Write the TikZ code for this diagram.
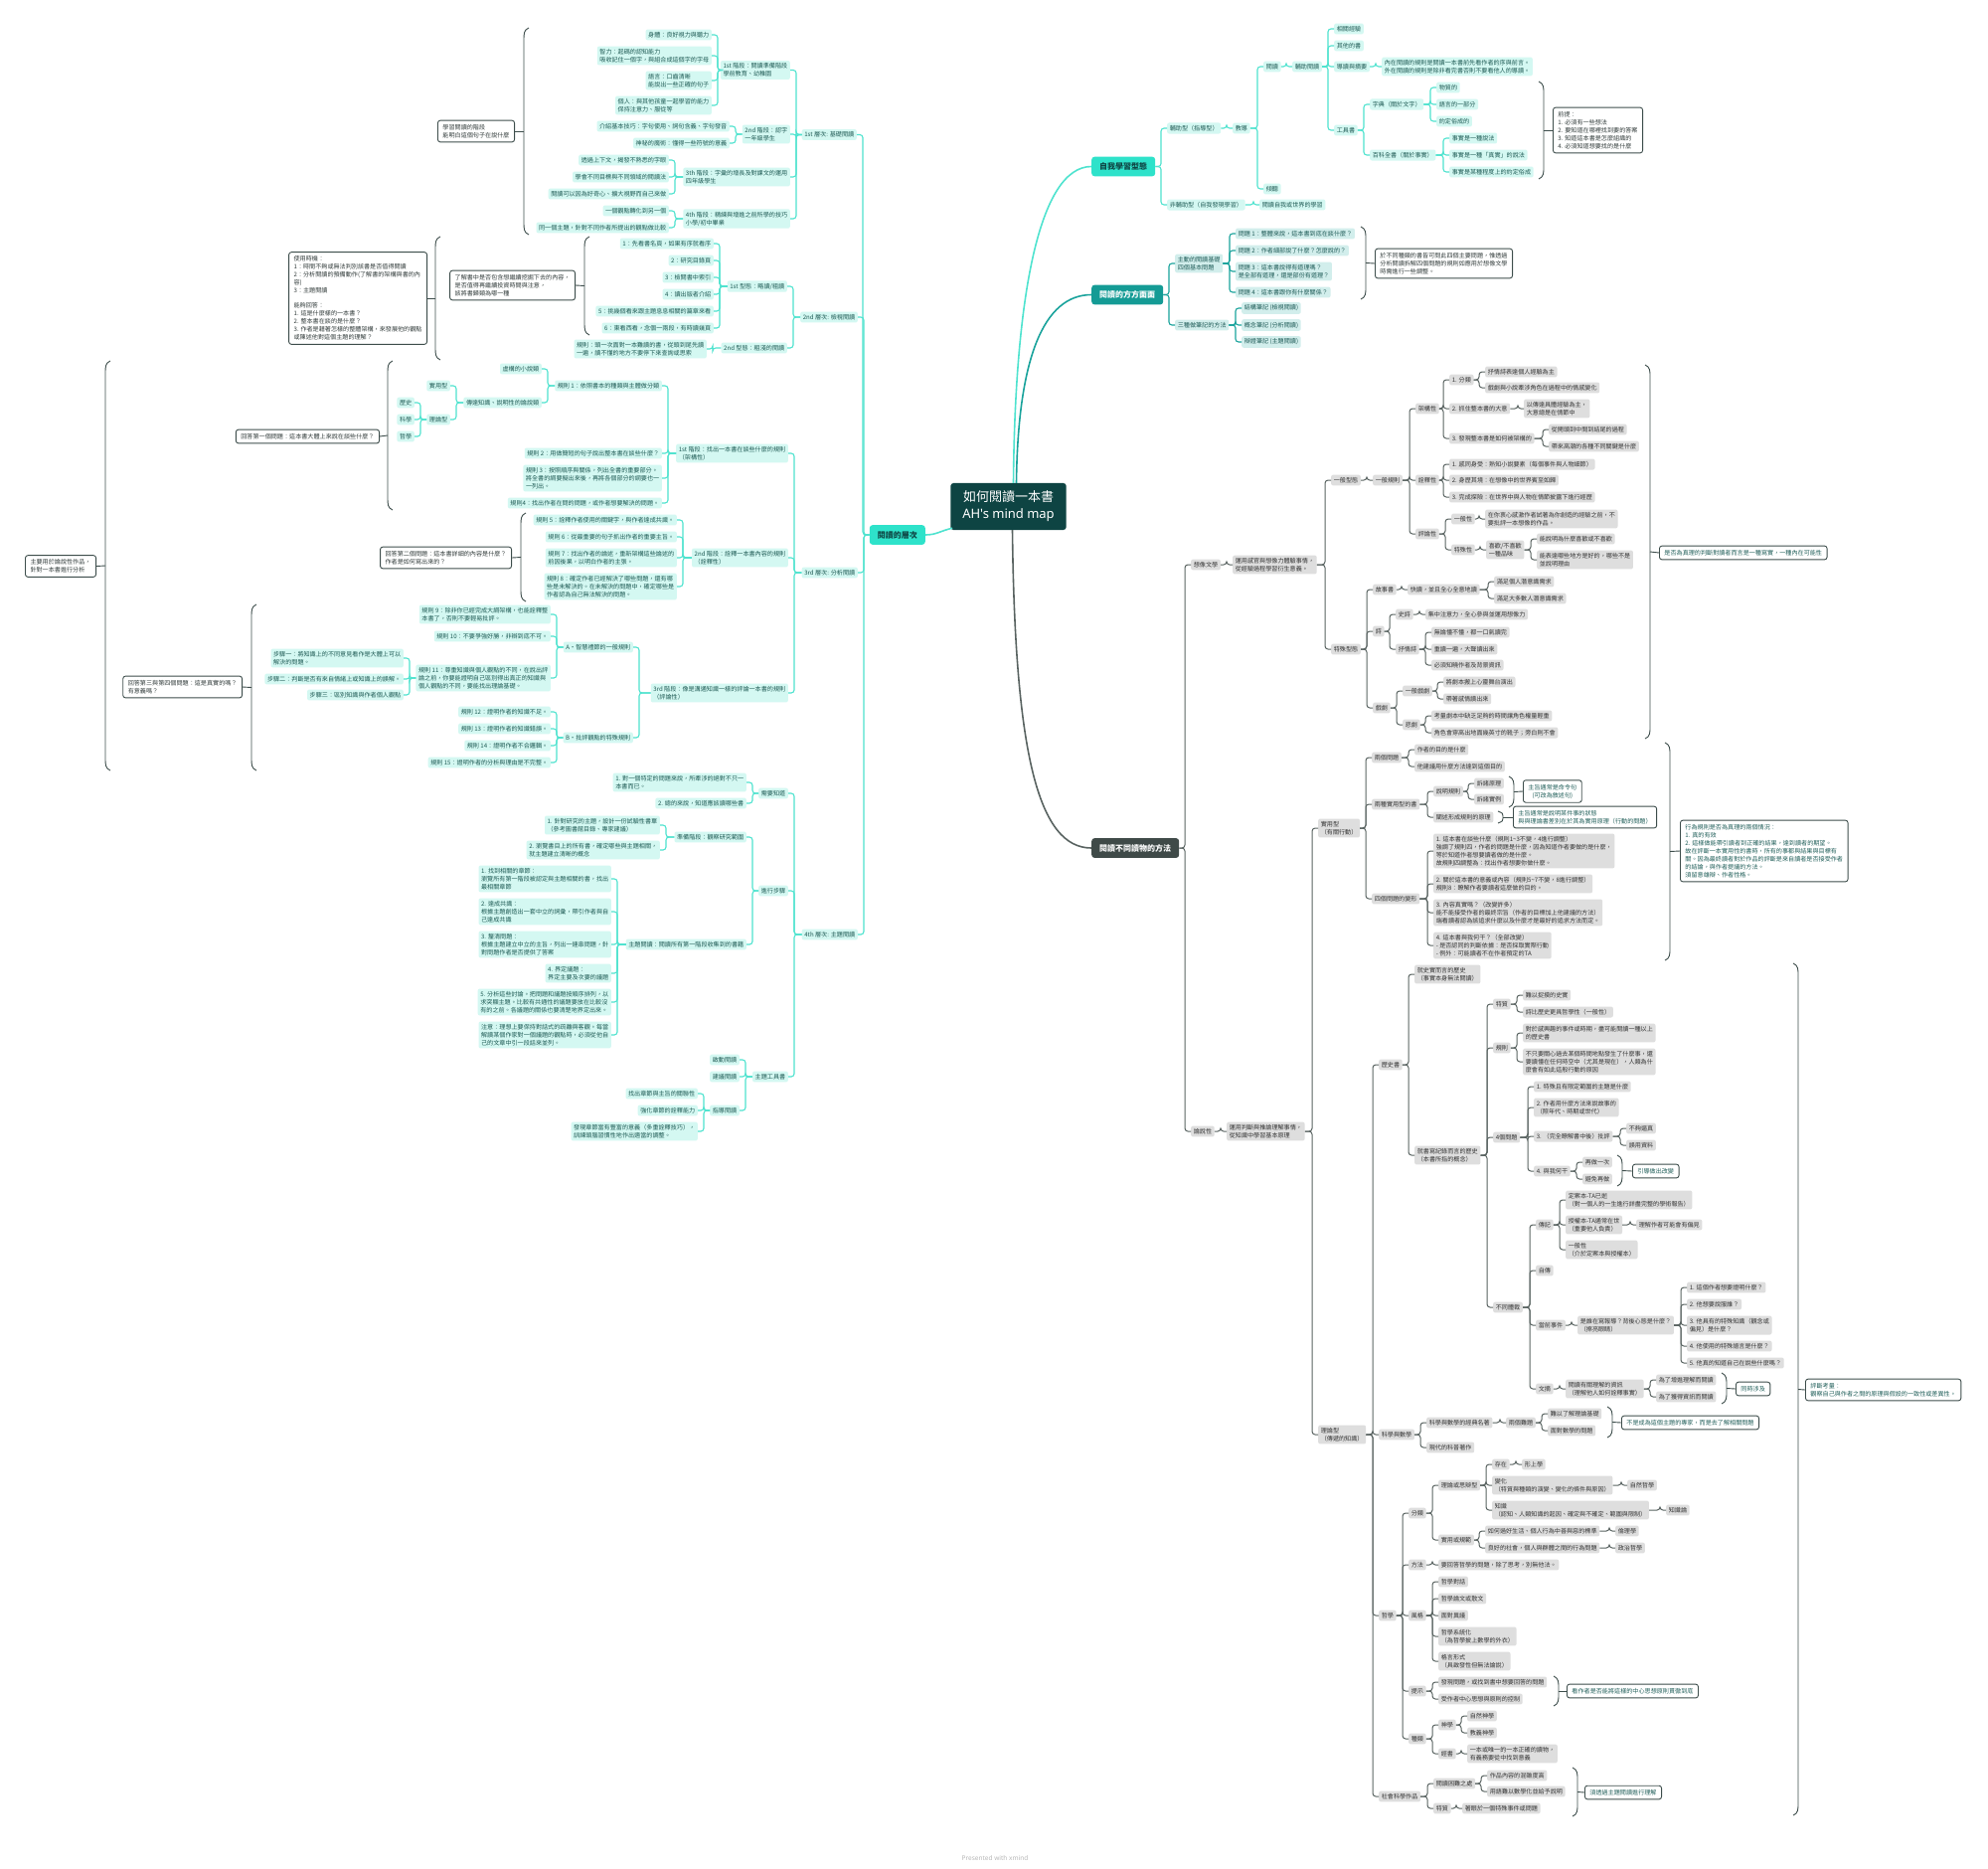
\documentclass[tikz,border=0pt]{standalone}
\usepackage{fontspec}
\setmainfont{Noto Sans CJK TC}
\newfontfamily\latinf{Noto Sans}
\usetikzlibrary{calc}
\definecolor{cyF}{HTML}{D4F8F2}
\definecolor{cyT}{HTML}{1E5A54}
\definecolor{cyL}{HTML}{4FE3CF}
\definecolor{teF}{HTML}{D2EEEC}
\definecolor{teT}{HTML}{1D5A56}
\definecolor{teL}{HTML}{1AA39C}
\definecolor{gyF}{HTML}{DEDEDE}
\definecolor{gyT}{HTML}{333333}
\definecolor{gyL}{HTML}{5A6462}
\definecolor{smD}{HTML}{3E4E4C}
\definecolor{smT}{HTML}{333D3C}
\definecolor{smTd}{HTML}{22605B}
\definecolor{mainC}{HTML}{2EE2CA}
\definecolor{mainT}{HTML}{149B95}
\definecolor{mainG}{HTML}{3F4A48}
\definecolor{cenF}{HTML}{0E4443}
\newcommand\mfont{\fontsize{6.1bp}{8bp}\selectfont}
\newcommand\nR[6]{\node[#3,anchor=west] (#2) at (#4,#5) {#6};\draw[#3l] (#1.east) -| ([xshift=-6bp]#2.west) -- (#2.west);}
\newcommand\nL[6]{\node[#3,anchor=east] (#2) at (#4,#5) {#6};\draw[#3l] (#1.west) -| ([xshift=6bp]#2.east) -- (#2.east);}
\newcommand\bR[5]{\pgfmathsetmacro\brkk{min(12,(#3-#2)/2.5)}\draw[brk] (#1,#2) .. controls ({#1+5},{#2+2}) and ({#1+5},{#2+\brkk/2}) .. ({#1+5},{#2+\brkk}) -- ({#1+5},{#3-\brkk}) .. controls ({#1+5},{#3-\brkk/2}) and ({#1+5},{#3-2}) .. (#1,#3);\coordinate (#4) at ({#1+5},{(#2+#3)/2});\draw[brk] (#4) -- (#5.west);}
\newcommand\bL[5]{\pgfmathsetmacro\brkk{min(12,(#3-#2)/2.5)}\draw[brk] (#1,#2) .. controls ({#1-5},{#2+2}) and ({#1-5},{#2+\brkk/2}) .. ({#1-5},{#2+\brkk}) -- ({#1-5},{#3-\brkk}) .. controls ({#1-5},{#3-\brkk/2}) and ({#1-5},{#3-2}) .. (#1,#3);\coordinate (#4) at ({#1-5},{(#2+#3)/2});\draw[brk] (#4) -- (#5.east);}
\tikzset{
 nodebase/.style={rounded corners=2bp,inner xsep=2.6bp,inner ysep=2.6bp,font=\mfont,align=left},
 cy/.style={nodebase,fill=cyF,text=cyT},
 te/.style={nodebase,fill=teF,text=teT},
 gy/.style={nodebase,fill=gyF,text=gyT},
 cyl/.style={draw=cyL,line width=1.1bp,rounded corners=3bp},
 tel/.style={draw=teL,line width=1.1bp,rounded corners=3bp},
 gyl/.style={draw=gyL,line width=1bp,rounded corners=3bp},
 sm/.style={draw=smD,line width=0.9bp,fill=white,rounded corners=2.5bp,inner xsep=5bp,inner ysep=4bp,text=smT,font=\mfont,align=left},
 smd/.style={sm,text=smTd},
 brk/.style={draw=smD,line width=0.9bp},
 mainbase/.style={rounded corners=3bp,inner xsep=8bp,inner ysep=6bp,font=\fontsize{8bp}{10bp}\selectfont\bfseries},
 mc/.style={mainbase,fill=mainC,text=cenF},
 mt/.style={mainbase,fill=mainT,text=white},
 mg/.style={mainbase,fill=mainG,text=white},
 cen/.style={rounded corners=3bp,inner xsep=12bp,inner ysep=8bp,fill=cenF,text=white,align=center,font=\fontsize{13bp}{17bp}\selectfont}
}
\begin{document}
\begin{tikzpicture}[x=1bp,y=-1bp]
\fill[white] (0,0) rectangle (2000,1880);
\useasboundingbox (0,0) rectangle (2000,1880);
% central and main branches
\node[cen] (C) at (1014.5,509.5) {如何閱讀一本書\\{\latinf AH's mind map}};
\node[mc,anchor=west] (M1) at (1098,167.5) {自我學習型態};
\node[mt,anchor=west] (M2) at (1098,296.5) {閱讀的方方面面};
\node[mc,anchor=east] (M3) at (931,538) {閱讀的層次};
\node[mg,anchor=west] (M4) at (1098,853) {閱讀不同讀物的方法};
\draw[cyL,line width=1.6bp] ([xshift=5bp]C.north) .. controls (1021,300) and (1045,167.5) .. (M1.west);
\draw[teL,line width=1.6bp] ([xshift=8bp]C.north) .. controls (1024,360) and (1050,296.5) .. (M2.west);
\draw[cyL,line width=1.6bp] (M3.east) .. controls (942,538) and (946,534) .. ([xshift=2bp,yshift=2bp]C.south west);
\draw[gyL,line width=1.6bp] ([xshift=4bp]C.south) .. controls (1021,760) and (1045,853) .. (M4.west);
% ---------- B: 自我學習型態
\nR{M1}{b1}{cy}{1174}{129}{輔助型（指導型）}
\nR{M1}{b2}{cy}{1174}{206}{非輔助型（自我發現學習）}
\nR{b2}{b3}{cy}{1267}{206}{閱讀自我或世界的學習}
\nR{b1}{b4}{cy}{1240}{129}{教導}
\nR{b4}{b5}{cy}{1271}{67}{閱讀}
\nR{b4}{b6}{cy}{1271}{190}{傾聽}
\nR{b5}{b7}{cy}{1300}{67}{輔助閱讀}
\nR{b7}{b8}{cy}{1342}{29}{相關經驗}
\nR{b7}{b9}{cy}{1342}{46}{其他的書}
\nR{b7}{b10}{cy}{1342}{67}{導讀與摘要}
\nR{b7}{b11}{cy}{1342}{131}{工具書}
\nR{b10}{b12}{cy}{1390}{67}{內在閱讀的規則是閱讀一本書前先看作者的序與前言。\\外在閱讀的規則是除非看完書否則不要看他人的導讀。}
\nR{b11}{b13}{cy}{1378}{105}{字典（關於文字）}
\nR{b11}{b14}{cy}{1378}{156}{百科全書（關於事實）}
\nR{b13}{b15}{cy}{1445}{88}{物質的}
\nR{b13}{b16}{cy}{1445}{105}{語言的一部分}
\nR{b13}{b17}{cy}{1445}{122}{約定俗成的}
\nR{b14}{b18}{cy}{1458}{139}{事實是一種說法}
\nR{b14}{b19}{cy}{1458}{156}{事實是一種「真實」的說法}
\nR{b14}{b20}{cy}{1458}{173}{事實是某種程度上的約定俗成}
\node[sm,anchor=west] (b21) at (1562,131) {前提：\\1. 必須有一些想法\\2. 要知道在哪裡找到要的答案\\3. 知道這本書是怎麼組織的\\4. 必須知道想要找的是什麼};
\bR{1548}{82}{180}{bk1}{b21}
% ---------- C: 閱讀的方方面面
\nR{M2}{c1}{te}{1182}{265}{主動的閱讀基礎\\四個基本問題}
\nR{M2}{c2}{te}{1182}{327}{三種做筆記的方法}
\nR{c1}{c3}{te}{1243}{235}{問題 1：整體來說，這本書到底在談什麼？}
\nR{c1}{c4}{te}{1243}{252}{問題 2：作者細部說了什麼？怎麼說的？}
\nR{c1}{c5}{te}{1243}{273}{問題 3：這本書說得有道理嗎？\\是全部有道理，還是部份有道理？}
\nR{c1}{c6}{te}{1243}{294}{問題 4：這本書跟你有什麼關係？}
\node[sm,anchor=west] (c7) at (1383,265) {於不同種類的書皆可問此四個主要問題，惟透過\\分析閱讀拆解四個問題的規則如應用於想像文學\\時需進行一些調整。};
\bR{1369}{228}{301}{bk2}{c7}
\nR{c2}{c8}{te}{1249}{310}{結構筆記 (檢視閱讀)}
\nR{c2}{c9}{te}{1249}{327}{概念筆記 (分析閱讀)}
\nR{c2}{c10}{te}{1249}{344}{辯證筆記 (主題閱讀)}
% ---------- A: 閱讀的層次
\nL{M3}{a1}{cy}{862}{135.5}{1st 層次: 基礎閱讀}
\nL{M3}{a2}{cy}{863}{319}{2nd 層次: 檢視閱讀}
\nL{M3}{a3}{cy}{863}{576}{3rd 層次: 分析閱讀}
\nL{M3}{a4}{cy}{863}{940}{4th 層次: 主題閱讀}
\nL{a1}{a11}{cy}{795}{70.5}{1st 階段：閱讀準備階段\\學前教育、幼稚園}
\nL{a1}{a12}{cy}{795}{135}{2nd 階段：認字\\一年級學生}
\nL{a1}{a13}{cy}{795}{178}{3th 階段：字彙的增長及對課文的運用\\四年級學生}
\nL{a1}{a14}{cy}{795}{220}{4th 階段：精練與增進之前所學的技巧\\小學/初中畢業}
\nL{a11}{a111}{cy}{716}{35}{身體：良好視力與聽力}
\nL{a11}{a112}{cy}{716}{56}{智力：起碼的認知能力\\吸收記住一個字，與組合成這個字的字母}
\nL{a11}{a113}{cy}{716}{81}{語言：口齒清晰\\能說出一些正確的句子}
\nL{a11}{a114}{cy}{716}{106}{個人：與其他孩童一起學習的能力\\保持注意力、服從等}
\nL{a12}{a121}{cy}{734}{127}{介紹基本技巧：字句使用、詞句含義、字句發音}
\nL{a12}{a122}{cy}{734}{144}{神秘的魔術：懂得一些符號的意義}
\nL{a13}{a131}{cy}{673}{161}{透過上下文，揭發不熟悉的字眼}
\nL{a13}{a132}{cy}{673}{178}{學會不同目標與不同領域的閱讀法}
\nL{a13}{a133}{cy}{673}{195}{閱讀可以因為好奇心、擴大視野而自己來做}
\nL{a14}{a141}{cy}{673}{212}{一個觀點轉化到另一個}
\nL{a14}{a142}{cy}{673}{229}{同一個主題，針對不同作者所提出的觀點做比較}
\node[sm,anchor=east] (a15) at (518,132) {學習閱讀的階段\\能明白這個句子在說什麼};
\bL{532}{28}{236}{bk3}{a15}
\nL{a2}{a21}{cy}{792}{288}{1st 型態：略讀/粗讀}
\nL{a2}{a22}{cy}{792}{350}{2nd 型態：粗淺的閱讀}
\nL{a21}{a211}{cy}{718}{245}{1：先看書名頁，如果有序就看序}
\nL{a21}{a212}{cy}{718}{262}{2：研究目錄頁}
\nL{a21}{a213}{cy}{718}{279}{3：檢閱書中索引}
\nL{a21}{a214}{cy}{718}{296}{4：讀出版者介紹}
\nL{a21}{a215}{cy}{718}{313}{5：挑幾個看來跟主題息息相關的篇章來看}
\nL{a21}{a216}{cy}{718}{330}{6：東看西看，念個一兩段，有時讀幾頁}
\nL{a22}{a221}{cy}{711}{351}{規則：頭一次面對一本難讀的書，從頭到尾先讀\\一遍，讀不懂的地方不要停下來查詢或思索}
\node[sm,anchor=east] (a23) at (579,287) {了解書中是否包含想繼續挖掘下去的內容，\\是否值得再繼續投資時間與注意，\\該將書歸類為哪一種};
\bL{593}{238}{337}{bk4}{a23}
\node[sm,anchor=east] (a24) at (430,300) {使用時機：\\1：時間不夠或無法判別該書是否值得閱讀\\2：分析閱讀的預備動作(了解書的架構與書的內\\容)\\3：主題閱讀\\[7bp]能夠回答：\\1. 這是什麼樣的一本書？\\2. 整本書在談的是什麼？\\3. 作者是藉著怎樣的整體架構，來發展他的觀點\\或陳述他對這個主題的理解？};
\bL{443}{238}{362}{bk5}{a24}
\nL{a3}{a31}{cy}{793}{456}{1st 階段：找出一本書在談些什麼的規則\\（架構性）}
\nL{a3}{a32}{cy}{793}{561}{2nd 階段：詮釋一本書內容的規則\\（詮釋性）}
\nL{a3}{a33}{cy}{793}{697}{3rd 階段：像是溝通知識一樣的評論一本書的規則\\（評論性）}
\nL{a31}{a311}{cy}{666}{388}{規則 1：依照書本的種類與主體做分類}
\nL{a31}{a312}{cy}{666}{456}{規則 2：用做簡短的句子說出整本書在談些什麼？}
\nL{a31}{a313}{cy}{666}{481}{規則 3：按照順序與關係，列出全書的重要部分。\\將全書的綱要擬出來後，再將各個部分的綱要也一\\一列出。}
\nL{a31}{a314}{cy}{666}{506}{規則4：找出作者在問的問題，或作者想要解決的問題。}
\nL{a311}{a3111}{cy}{545}{371}{虛構的小說類}
\nL{a311}{a3112}{cy}{545}{405}{傳達知識、說明性的論說類}
\nL{a3112}{a3113}{cy}{453}{388}{實用型}
\nL{a3112}{a3114}{cy}{453}{422}{理論型}
\nL{a3114}{a3115}{cy}{417}{405}{歷史}
\nL{a3114}{a3116}{cy}{417}{422}{科學}
\nL{a3114}{a3117}{cy}{417}{439}{哲學}
\node[sm,anchor=east] (a315) at (382,439) {回答第一個問題：這本書大體上來說在談些什麼？};
\bL{395}{363}{513}{bk6}{a315}
\nL{a32}{a321}{cy}{681}{523}{規則 5：詮釋作者使用的關鍵字，與作者達成共識。}
\nL{a32}{a322}{cy}{681}{540}{規則 6：從最重要的句子抓出作者的重要主旨。}
\nL{a32}{a323}{cy}{681}{561}{規則 7：找出作者的論述，重新架構這些論述的\\前因後果，以明白作者的主張。}
\nL{a32}{a324}{cy}{681}{590}{規則 8：確定作者已經解決了哪些問題，還有哪\\些是未解決的。在未解決的問題中，確定哪些是\\作者認為自己無法解決的問題。}
\node[sm,anchor=east] (a325) at (515,561) {回答第二個問題：這本書詳細的內容是什麼？\\作者是如何寫出來的？};
\bL{529}{516}{605}{bk7}{a325}
\nL{a33}{a331}{cy}{637}{651}{A・智慧禮節的一般規則}
\nL{a33}{a332}{cy}{637}{742}{B・批評觀點的特殊規則}
\nL{a331}{a3311}{cy}{554}{618}{規則 9：除非你已經完成大綱架構，也能詮釋整\\本書了，否則不要輕易批評。}
\nL{a331}{a3312}{cy}{554}{640}{規則 10：不要爭強好勝，非辯到底不可。}
\nL{a331}{a3313}{cy}{554}{682}{規則 11：尊重知識與個人觀點的不同，在說出評\\論之前，你要能證明自己區別得出真正的知識與\\個人觀點的不同，要能找出理論基礎。}
\nL{a3313}{a3314}{cy}{406}{662}{步驟一：將知識上的不同意見看作是大體上可以\\解決的問題。}
\nL{a3313}{a3315}{cy}{406}{683}{步驟二：判斷是否有來自情緒上或知識上的誤解。}
\nL{a3313}{a3316}{cy}{406}{699}{步驟三：區別知識與作者個人觀點}
\nL{a332}{a3321}{cy}{554}{716}{規則 12：證明作者的知識不足。}
\nL{a332}{a3322}{cy}{554}{733}{規則 13：證明作者的知識錯誤。}
\nL{a332}{a3323}{cy}{554}{750}{規則 14：證明作者不合邏輯。}
\nL{a332}{a3324}{cy}{554}{767}{規則 15：證明作者的分析與理由是不完整。}
\node[sm,anchor=east] (a333) at (244,691) {回答第三與第四個問題：這是真實的嗎？\\有意義嗎？};
\bL{258}{608}{775}{bk8}{a333}
\node[sm,anchor=east] (a34) at (97,569.5) {主要用於論說性作品，\\針對一本書進行分析};
\bL{111}{363}{775}{bk9}{a34}
\nL{a4}{a41}{cy}{793}{798}{需要知道}
\nL{a4}{a42}{cy}{793}{896}{進行步驟}
\nL{a4}{a43}{cy}{793}{1083}{主題工具書}
\nL{a41}{a411}{cy}{751}{787}{1. 對一個特定的問題來說，所牽涉的絕對不只一\\本書而已。}
\nL{a41}{a412}{cy}{751}{808}{2. 總的來說，知道應該讀哪些書}
\nL{a42}{a421}{cy}{751}{842}{準備階段：觀察研究範圍}
\nL{a42}{a422}{cy}{751}{950}{主題閱讀：閱讀所有第一階段收集到的書籍}
\nL{a421}{a4211}{cy}{664}{830}{1. 針對研究的主題，設計一份試驗性書單\\（參考圖書館目錄、專家建議）}
\nL{a421}{a4212}{cy}{664}{855}{2. 瀏覽書目上的所有書，確定哪些與主題相關，\\就主題建立清晰的概念}
\nL{a422}{a4221}{cy}{615}{884}{1. 找到相關的章節：\\瀏覽所有第一階段被認定與主題相關的書，找出\\最相關章節}
\nL{a422}{a4222}{cy}{615}{917}{2. 達成共識：\\根據主題創造出一套中立的詞彙，帶引作者與自\\己達成共識}
\nL{a422}{a4223}{cy}{615}{950}{3. 釐清問題：\\根據主題建立中立的主旨，列出一連串問題，針\\對問題作者是否提供了答案}
\nL{a422}{a4224}{cy}{615}{979}{4. 界定議題：\\界定主要及次要的議題}
\nL{a422}{a4225}{cy}{615}{1008}{5. 分析這些討論。把問題和議題按順序排列，以\\求突顯主題。比較有共通性的議題要放在比較沒\\有的之前。各議題的關係也要清楚地界定出來。}
\nL{a422}{a4226}{cy}{615}{1041}{注意：理想上要保持對話式的疏離與客觀。每當\\解讀某個作家對一個議題的觀點時，必須從他自\\己的文章中引一段話來並列。}
\nL{a43}{a431}{cy}{744}{1066}{啟動閱讀}
\nL{a43}{a432}{cy}{744}{1083}{建議閱讀}
\nL{a43}{a433}{cy}{744}{1117}{指導閱讀}
\nL{a433}{a4331}{cy}{702}{1100}{找出章節與主旨的關聯性}
\nL{a433}{a4332}{cy}{702}{1117}{強化章節的詮釋能力}
\nL{a433}{a4333}{cy}{702}{1138}{發現章節當有豐富的意義（多重詮釋技巧），\\訓練頭腦習慣性地作出適當的調整。}
% ---------- D: 閱讀不同讀物的方法
\nR{M4}{d1}{gy}{1198}{568}{想像文學}
\nR{M4}{d2}{gy}{1198}{1138}{論說性}
\nR{d1}{d11}{gy}{1240}{568}{運用感官與想像力體驗事情，\\從經驗過程學習衍生意義。}
\nR{d11}{d12}{gy}{1339}{483}{一般型態}
\nR{d11}{d13}{gy}{1339}{653}{特殊型態}
\nR{d12}{d121}{gy}{1381}{483}{一般規則}
\nR{d121}{e1}{gy}{1424}{411}{架構性}
\nR{d121}{e2}{gy}{1424}{483}{詮釋性}
\nR{d121}{e3}{gy}{1424}{537}{評論性}
\nR{e1}{e11}{gy}{1458}{382}{1. 分類}
\nR{e11}{e111}{gy}{1494}{374}{抒情詩表達個人經驗為主}
\nR{e11}{e112}{gy}{1494}{390}{戲劇與小說牽涉角色在過程中的情感變化}
\nR{e1}{e12}{gy}{1458}{411}{2. 抓住整本書的大意}
\nR{e12}{e121}{gy}{1533}{411}{以傳達具體經驗為主，\\大意總是在情節中}
\nR{e1}{e13}{gy}{1458}{441}{3. 發現整本書是如何被架構的}
\nR{e13}{e131}{gy}{1558}{432}{從開頭到中間到結尾的過程}
\nR{e13}{e132}{gy}{1558}{449}{帶來高潮的各種不同關鍵是什麼}
\nR{e2}{e21}{gy}{1458}{467}{1. 感同身受：熟知小說要素（每個事件與人物細節）}
\nR{e2}{e22}{gy}{1458}{483}{2. 身歷其境：在想像中的世界賓至如歸}
\nR{e2}{e23}{gy}{1458}{500}{3. 完成探險：在世界中與人物在情節披露下進行經歷}
\nR{e3}{e31}{gy}{1460}{522}{一般性}
\nR{e31}{e311}{gy}{1494}{522}{在你衷心感激作者試著為你創造的經驗之前，不\\要批評一本想像的作品。}
\nR{e3}{e32}{gy}{1460}{553}{特殊性}
\nR{e32}{e321}{gy}{1495}{553}{喜歡/不喜歡\\一種品味}
\nR{e321}{e3211}{gy}{1546}{542}{能說明為什麼喜歡或不喜歡}
\nR{e321}{e3212}{gy}{1546}{563}{能表達哪些地方是好的，哪些不是\\並說明理由}
\nR{d13}{f1}{gy}{1381}{593}{故事書}
\nR{f1}{f11}{gy}{1416}{593}{快讀，並且全心全意地讀}
\nR{f11}{f111}{gy}{1503}{585}{滿足個人潛意識需求}
\nR{f11}{f112}{gy}{1503}{602}{滿足大多數人潛意識需求}
\nR{d13}{f2}{gy}{1381}{635}{詩}
\nR{f2}{f21}{gy}{1404}{618}{史詩}
\nR{f21}{f211}{gy}{1434}{618}{集中注意力，全心參與並運用想像力}
\nR{f2}{f22}{gy}{1404}{653}{抒情詩}
\nR{f22}{f221}{gy}{1440}{636}{無論懂不懂，都一口氣讀完}
\nR{f22}{f222}{gy}{1440}{653}{重讀一遍，大聲讀出來}
\nR{f22}{f223}{gy}{1440}{669}{必須知曉作者及背景資訊}
\nR{d13}{f3}{gy}{1381}{712}{戲劇}
\nR{f3}{f31}{gy}{1411}{695}{一般戲劇}
\nR{f31}{f311}{gy}{1452}{686}{將劇本搬上心靈舞台演出}
\nR{f31}{f312}{gy}{1452}{703}{帶著感情讀出來}
\nR{f3}{f32}{gy}{1411}{729}{悲劇}
\nR{f32}{f321}{gy}{1440}{720}{考量劇本中缺乏足夠的時間讓角色權量輕重}
\nR{f32}{f322}{gy}{1440}{737}{角色會穿高出地面幾英寸的靴子；旁白則不會}
\node[smd,anchor=west] (d14) at (1669,556) {是否為真理的判斷對讀者而言是一種寫實，一種內在可能性};
\bR{1655}{367}{743}{bk10}{d14}
\nR{d2}{d21}{gy}{1234}{1138}{運用判斷與推論理解事情，\\從知識中學習基本原理}
\nR{d21}{g1}{gy}{1326}{833}{實用型\\（有關行動）}
\nR{d21}{g2}{gy}{1326}{1443}{理論型\\（傳遞的知識）}
\nR{g1}{g11}{gy}{1380}{762}{兩個問題}
\nR{g11}{g111}{gy}{1423}{754}{作者的目的是什麼}
\nR{g11}{g112}{gy}{1423}{771}{他建議用什麼方法達到這個目的}
\nR{g1}{g12}{gy}{1380}{809}{兩種實用型的書}
\nR{g12}{g121}{gy}{1442}{796}{說明規則}
\nR{g121}{g1211}{gy}{1483}{788}{訴諸原理}
\nR{g121}{g1212}{gy}{1483}{804}{訴諸實例}
\node[smd,anchor=west,align=center] (g1213) at (1532,796) {主旨通常是命令句\\(可改為敘述句)};
\bR{1518}{781}{812}{bk11}{g1213}
\nR{g12}{g122}{gy}{1442}{822}{闡述形成規則的原理}
\node[smd,anchor=west] (g1221) at (1522,822) {主旨通常是說明某件事的狀態\\與與理論書差別在於其為實用原理（行動的問題）};
\bR{1507}{816}{828}{bk12}{g1221}
\nR{g1}{g13}{gy}{1380}{904}{四個問題的變形}
\nR{g13}{g131}{gy}{1442}{856}{1. 這本書在談些什麼（規則1\textasciitilde 3不變，4進行調整）\\強調了規則四，作者的問題是什麼，因為知道作者要做的是什麼，\\等於知道作者想要讀者做的是什麼。\\故規則四調整為：找出作者想要你做什麼。}
\nR{g13}{g132}{gy}{1442}{889}{2. 關於這本書的意義或內容（規則5\textasciitilde 7不變，8進行調整）\\規則8：瞭解作者要讀者這麼做的目的。}
\nR{g13}{g133}{gy}{1442}{918}{3. 內容真實嗎？（改變許多）\\能不能接受作者的最終宗旨（作者的目標加上他建議的方法）\\端看讀者認為該追求什麼以及什麼才是最好的追求方法而定。}
\nR{g13}{g134}{gy}{1442}{951}{4. 這本書與我何干？（全部改變）\\- 是否認同的判斷依據：是否採取實際行動\\- 例外：可能讀者不在作者預定的TA}
\node[smd,anchor=west] (g14) at (1690,856) {行為規則是否為真理的兩個情況：\\1. 真的有效\\2. 這樣做能帶引讀者到正確的結果，達到讀者的期望。\\故在評斷一本實用性的書時，所有的事都與結果與目標有\\關。因為最終讀者對於作品的評斷是來自讀者是否接受作者\\的結論，與作者提議的方法。\\須留意雄辯、作者性格。};
\bR{1675}{747}{966}{bk13}{g14}
\nR{g2}{h1}{gy}{1387}{1071}{歷史書}
\nR{h1}{h11}{gy}{1423}{980}{就史實而言的歷史\\（事實本身無法閱讀）}
\nR{h1}{h12}{gy}{1423}{1162}{就書寫紀錄而言的歷史\\（本書所指的概念）}
\nR{h12}{h121}{gy}{1502}{1010}{特質}
\nR{h121}{h1211}{gy}{1532}{1001}{難以捉摸的史實}
\nR{h121}{h1212}{gy}{1532}{1018}{詩比歷史更具哲學性（一般性）}
\nR{h12}{h122}{gy}{1502}{1054}{規則}
\nR{h122}{h1221}{gy}{1532}{1039}{對於感興趣的事件或時期，盡可能閱讀一種以上\\的歷史書}
\nR{h122}{h1222}{gy}{1532}{1068}{不只要關心過去某個時間地點發生了什麼事，還\\要讀懂在任何時空中（尤其是現在），人類為什\\麼會有如此這般行動的原因}
\nR{h12}{h123}{gy}{1502}{1144}{4個問題}
\nR{h123}{h1231}{gy}{1543}{1093}{1. 特殊且有限定範圍的主題是什麼}
\nR{h123}{h1232}{gy}{1543}{1114}{2. 作者用什麼方法來說故事的\\（照年代、時期或世代）}
\nR{h123}{h1233}{gy}{1543}{1143}{3. （完全瞭解書中後）批評}
\nR{h1233}{h12331}{gy}{1636}{1135}{不夠逼真}
\nR{h1233}{h12332}{gy}{1636}{1152}{誤用資料}
\nR{h123}{h1234}{gy}{1543}{1178}{4. 與我何干}
\nR{h1234}{h12341}{gy}{1592}{1169}{再做一次}
\nR{h1234}{h12342}{gy}{1592}{1186}{避免再做}
\node[smd,anchor=west] (h12343) at (1642,1178) {引導做出改變};
\bR{1627}{1162}{1193}{bk14}{h12343}
\nR{h12}{h124}{gy}{1502}{1315}{不同體裁}
\nR{h124}{h1241}{gy}{1545}{1232}{傳記}
\nR{h1241}{i1}{gy}{1575}{1207}{定案本-TA已逝\\（對一個人的一生進行詳盡完整的學術報告）}
\nR{h1241}{i2}{gy}{1575}{1232}{授權本-TA通常在世\\（重要他人負責）}
\nR{i2}{i21}{gy}{1646}{1232}{理解作者可能會有偏見}
\nR{h1241}{i3}{gy}{1575}{1257}{一般性\\（介於定案本與授權本）}
\nR{h124}{h1242}{gy}{1545}{1278}{自傳}
\nR{h124}{h1243}{gy}{1545}{1333}{當前事件}
\nR{h1243}{j1}{gy}{1587}{1333}{是誰在寫報導？背後心態是什麼？\\（擦亮眼睛）}
\nR{j1}{j11}{gy}{1697}{1295}{1. 這個作者想要證明什麼？}
\nR{j1}{j12}{gy}{1697}{1312}{2. 他想要說服誰？}
\nR{j1}{j13}{gy}{1697}{1333}{3. 他具有的特殊知識（觀念或\\偏見）是什麼？}
\nR{j1}{j14}{gy}{1697}{1354}{4. 他使用的特殊語言是什麼？}
\nR{j1}{j15}{gy}{1697}{1371}{5. 他真的知道自己在說些什麼嗎？}
\nR{h124}{h1244}{gy}{1545}{1397}{文摘}
\nR{h1244}{k1}{gy}{1575}{1397}{閱讀有關理解的資訊\\（理解他人如何詮釋事實）}
\nR{k1}{k11}{gy}{1666}{1388}{為了增進理解而閱讀}
\nR{k1}{k12}{gy}{1666}{1405}{為了獲得資訊而閱讀}
\node[smd,anchor=west] (k13) at (1746,1397) {同時涉及};
\bR{1732}{1381}{1412}{bk15}{k13}
\nR{g2}{l1}{gy}{1387}{1443}{科學與數學}
\nR{l1}{l11}{gy}{1435}{1431}{科學與數學的經典名著}
\nR{l11}{l111}{gy}{1515}{1431}{兩個難題}
\nR{l111}{l1111}{gy}{1557}{1422}{難以了解理論基礎}
\nR{l111}{l1112}{gy}{1557}{1439}{面對數學的問題}
\node[smd,anchor=west] (l1113) at (1631,1431) {不是成為這個主題的專家，而是去了解相關問題};
\bR{1617}{1415}{1446}{bk16}{l1113}
\nR{l1}{l12}{gy}{1435}{1456}{現代的科普著作}
\nR{g2}{m1}{gy}{1387}{1625}{哲學}
\nR{m1}{m11}{gy}{1417}{1522}{分類}
\nR{m11}{m111}{gy}{1447}{1494}{理論或思辯型}
\nR{m111}{m1111}{gy}{1501}{1473}{存在}
\nR{m1111}{m11111}{gy}{1531}{1473}{形上學}
\nR{m111}{m1112}{gy}{1501}{1494}{變化\\（特質與種類的演變、變化的條件與原因）}
\nR{m1112}{m11121}{gy}{1637}{1494}{自然哲學}
\nR{m111}{m1113}{gy}{1501}{1519}{知識\\（認知、人類知識的起因、確定與不確定、範圍與限制）}
\nR{m1113}{m11131}{gy}{1676}{1519}{知識論}
\nR{m11}{m112}{gy}{1447}{1549}{實用或規範}
\nR{m112}{m1121}{gy}{1494}{1540}{如何過好生活、個人行為中善與惡的標準}
\nR{m1121}{m11211}{gy}{1625}{1540}{倫理學}
\nR{m112}{m1122}{gy}{1494}{1557}{良好的社會，個人與群體之間的行為問題}
\nR{m1122}{m11221}{gy}{1625}{1557}{政治哲學}
\nR{m1}{m12}{gy}{1417}{1574}{方法}
\nR{m12}{m121}{gy}{1447}{1574}{要回答哲學的問題，除了思考，別無他法。}
\nR{m1}{m13}{gy}{1417}{1625}{風格}
\nR{m13}{m131}{gy}{1447}{1591}{哲學對話}
\nR{m13}{m132}{gy}{1447}{1608}{哲學論文或散文}
\nR{m13}{m133}{gy}{1447}{1625}{面對異議}
\nR{m13}{m134}{gy}{1447}{1646}{哲學系統化\\（為哲學披上數學的外衣）}
\nR{m13}{m135}{gy}{1447}{1671}{格言形式\\（具啟發性但無法論說）}
\nR{m1}{m14}{gy}{1417}{1701}{提示}
\nR{m14}{m141}{gy}{1447}{1692}{發現問題，或找到書中想要回答的問題}
\nR{m14}{m142}{gy}{1447}{1709}{受作者中心思想與原則的控制}
\node[smd,anchor=west] (m143) at (1576,1701) {看作者是否能將這樣的中心思想原則貫徹到底};
\bR{1563}{1686}{1716}{bk17}{m143}
\nR{m1}{m15}{gy}{1417}{1749}{種類}
\nR{m15}{m151}{gy}{1447}{1735}{神學}
\nR{m151}{m1511}{gy}{1476}{1726}{自然神學}
\nR{m151}{m1512}{gy}{1476}{1743}{教義神學}
\nR{m15}{m152}{gy}{1447}{1764}{經書}
\nR{m152}{m1521}{gy}{1476}{1764}{一本或唯一的一本正確的讀物，\\有義務要從中找到意義}
\nR{g2}{n1}{gy}{1387}{1807}{社會科學作品}
\nR{n1}{n11}{gy}{1442}{1794}{閱讀困難之處}
\nR{n11}{n111}{gy}{1496}{1786}{作品內容的混雜度高}
\nR{n11}{n112}{gy}{1496}{1802}{用語難以數學化並給予說明}
\nR{n1}{n12}{gy}{1442}{1819}{特質}
\nR{n12}{n121}{gy}{1471}{1819}{著眼於一個特殊事件或問題}
\node[smd,anchor=west] (n13) at (1594,1803) {須透過主題閱讀進行理解};
\bR{1582}{1778}{1827}{bk18}{n13}
\node[smd,anchor=west] (g21) at (1816,1398) {評斷考量：\\觀察自己與作者之間的原理與假設的一致性或差異性。};
\bR{1804}{969}{1826}{bk19}{g21}
\node[text=black!28,font=\fontsize{6.5bp}{8bp}\selectfont\latinf] (foot) at (1001,1869) {Presented with \textbf{xmind}};
\end{tikzpicture}
\end{document}
